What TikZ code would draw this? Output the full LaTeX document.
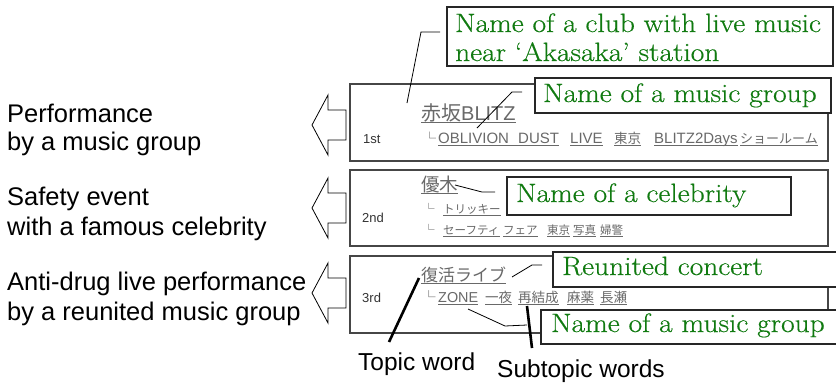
\documentclass[tikz,border=0pt]{standalone}
\usepackage{fontspec}
\newfontfamily\arialf{Liberation Sans}
\newfontfamily\cjk{Noto Sans CJK JP}
\newfontfamily\cent{Latin Modern Roman}[FakeStretch=1.11, FakeBold=0.45]
\definecolor{cgreen}{RGB}{16,122,16}
\definecolor{pgrey}{RGB}{105,105,105}
\definecolor{tgrey}{RGB}{118,118,118}
\definecolor{bgrey}{RGB}{70,70,70}
\newcommand\pword[5]{%
  \node[pw, font=\arialf\fontsize{#4}{#4}\selectfont] (#1) at (#2,#3) {#5};
  \draw[ul] ([yshift=-2.6pt]#1.base west) -- ([yshift=-2.6pt]#1.base east);}
\begin{document}
\begin{tikzpicture}[x=1pt,y=-1pt,
  panel/.style={draw=bgrey, line width=1.1pt, fill=white},
  blockarrow/.style={draw=black, line width=0.8pt, fill=white, line join=miter},
  lab/.style={anchor=base west, inner sep=0pt, font=\arialf\fontsize{25.5}{28}\selectfont, text=black},
  blab/.style={anchor=base west, inner sep=0pt, font=\arialf\fontsize{24.5}{27}\selectfont, text=black},
  num/.style={anchor=base west, inner sep=0pt, font=\arialf\fontsize{13}{13}\selectfont, text=black!80},
  pw/.style={anchor=base west, inner sep=0pt, text=pgrey},
  corner/.style={anchor=base west, inner sep=0pt, text=pgrey},
  ul/.style={draw=pgrey, line width=0.8pt},
  leader/.style={draw=black, line width=0.8pt},
  pointer/.style={draw=black, line width=2.6pt},
  cbox/.style={draw=black!85, line width=1.1pt, fill=white},
  ctext/.style={anchor=base west, inner sep=0pt, font=\cent\fontsize{26.5}{29}\selectfont, text=cgreen}]
\useasboundingbox (0,0) rectangle (836,384);
\clip (0,0) rectangle (836,384);
\fill[white] (0,0) rectangle (836,384);

% panels
\draw[panel] (350,84) rectangle (828,161);
\draw[panel] (350,170) rectangle (828,246);
\draw[panel] (350,256) rectangle (828,333);

% block arrows
\foreach \c in {125,208,293}{
  \draw[blockarrow] (312,\c) -- (328,\c-30) -- (328,\c-15) -- (346,\c-15)
    -- (346,\c+15) -- (328,\c+15) -- (328,\c+30) -- cycle;}

% left labels
\node[lab] (l1a) at (7,122) {Performance};
\node[lab] (l1b) at (7,150) {by a music group};
\node[lab] (l2a) at (7,205) {Safety event};
\node[lab] (l2b) at (7,235) {with a famous celebrity};
\node[lab] (l3a) at (7,290) {Anti-drug live performance};
\node[lab] (l3b) at (7,320) {by a reunited music group};

% panel 1
\node[num] (n1) at (363,143) {1st};
\pword{t1}{421}{120}{20}{{\cjk 赤坂}BLITZ}
\node[corner, font=\cjk\fontsize{13}{13}\selectfont] (k1) at (423,143) {└};
\pword{s1a}{438}{143}{15}{OBLIVION}
\pword{s1b}{518}{143}{15}{DUST}
\draw[ul] ([yshift=-2.6pt]s1a.base east) -- ([yshift=-2.6pt]s1b.base west);
\pword{s1c}{570}{143}{15}{LIVE}
\pword{s1d}{614}{143}{13.5}{\cjk 東京}
\pword{s1e}{654}{143}{15}{BLITZ2Days}
\pword{s1f}{740}{143}{13}{\cjk ショールーム}

% panel 2
\node[num] (n2) at (362,222) {2nd};
\pword{t2}{421}{191}{18.5}{\cjk 優木}
\node[corner, font=\cjk\fontsize{11.5}{11.5}\selectfont] (k2a) at (423,213) {└};
\pword{s2a}{443}{213}{11.5}{\cjk トリッキー}
\node[corner, font=\cjk\fontsize{11.5}{11.5}\selectfont] (k2b) at (423,234) {└};
\pword{s2b}{443}{234}{11.5}{\cjk セーフティ}
\pword{s2c}{503}{234}{11.5}{\cjk フェア}
\pword{s2d}{547}{234}{11.5}{\cjk 東京}
\pword{s2e}{573}{234}{11.5}{\cjk 写真}
\pword{s2f}{600}{234}{11.5}{\cjk 婦警}

% panel 3
\node[num] (n3) at (362,302) {3rd};
\pword{t3}{421}{281}{17}{\cjk 復活ライブ}
\node[corner, font=\cjk\fontsize{13.5}{13.5}\selectfont] (k3) at (422,302) {└};
\pword{s3a}{438}{302}{14.4}{ZONE}
\pword{s3b}{485}{302}{13.5}{\cjk 一夜}
\pword{s3c}{518}{302}{13.5}{\cjk 再結成}
\pword{s3d}{567}{302}{13.5}{\cjk 麻薬}
\pword{s3e}{600}{302}{13.5}{\cjk 長瀬}

% leader lines
\coordinate (a1) at (407,103); \coordinate (a2) at (421,32); \coordinate (a3) at (440,32);
\draw[leader] (a1) -- (a2) -- (a3);
\coordinate (b1) at (477,128); \coordinate (b2) at (512,92); \coordinate (b3) at (522,92);
\draw[leader] (b1) -- (b2) -- (b3);
\coordinate (d1) at (455,185); \coordinate (d2) at (482,192); \coordinate (d3) at (495,192);
\draw[leader] (d1) -- (d2) -- (d3);
\coordinate (e1) at (512,277); \coordinate (e2) at (532,265); \coordinate (e3) at (542,265);
\draw[leader] (e1) -- (e2) -- (e3);
\coordinate (f1) at (468,309); \coordinate (f2) at (505,326); \coordinate (f3) at (527,325);
\draw[leader] (f1) -- (f2) -- (f3);

% callouts
\draw[cbox] (447,7) rectangle (833,66);
\node[ctext] (c1a) at (455,32) {Name of a club with live music};
\node[ctext] (c1b) at (455,61) {near ‘Akasaka’ station};
\draw[cbox] (535,78) rectangle (831,113);
\node[ctext] (c2) at (543,102) {Name of a music group};
\draw[cbox] (507,177) rectangle (791,215);
\node[ctext] (c3) at (516,202) {Name of a celebrity};
\draw[cbox] (553,252) rectangle (845,287);
\node[ctext] (c4) at (562,275) {Reunited concert};
\draw[cbox] (541,310) rectangle (845,344);
\node[ctext] (c5) at (551,332) {Name of a music group};

% pointers and bottom labels
\node[blab] (tw) at (358,370) {Topic word};
\node[blab] (sw) at (497,377) {Subtopic words};
\coordinate (p1) at (419,278); \coordinate (p2) at (389,342);
\draw[pointer] (p1) -- (p2);
\coordinate (q1) at (527,306); \coordinate (q2) at (532,348);
\draw[pointer] (q1) -- (q2);
\end{tikzpicture}
\end{document}
